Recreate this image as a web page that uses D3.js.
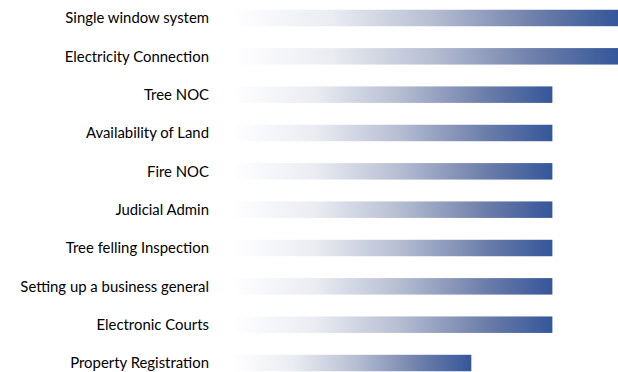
<!DOCTYPE html>
<html><head><meta charset="utf-8">
<script src="https://cdn.jsdelivr.net/npm/d3@7"></script>
<style>body{margin:0;background:#fff}svg{display:block}</style>
</head><body>
<svg id="c" width="618" height="372"></svg>
<script>
const categories = ["Single window system","Electricity Connection","Tree NOC","Availability of Land","Fire NOC","Judicial Admin","Tree felling Inspection","Setting up a business general","Electronic Courts","Property Registration"];
const values = [100,100,83,83,83,83,83,83,83,62];

const svg = d3.select("#c");
const left = 232, right = 618;
const x = d3.scaleLinear().domain([0,100]).range([left,right]);
const y = d3.scaleBand().domain(categories).range([-1,382]).paddingInner(0.57).paddingOuter(0.28);

const defs = svg.append("defs");
const grad = defs.append("linearGradient").attr("id","g").attr("x1","0%").attr("x2","100%").attr("y1","0%").attr("y2","0%");
[[0,"#ffffff"],[0.26,"#eaecf2"],[0.52,"#b6bed2"],[0.78,"#6f80ab"],[1,"#35569a"]].forEach(s=>
  grad.append("stop").attr("offset",s[0]).attr("stop-color",s[1]));

svg.selectAll("rect.bar").data(categories).join("rect").attr("class","bar")
  .attr("x", x(0)).attr("y", d=>y(d)).attr("height", y.bandwidth())
  .attr("width", (d,i)=>x(values[i])-x(0)).attr("fill","url(#g)");

svg.selectAll("text.lbl").data(categories).join("text").attr("class","lbl")
  .attr("x",209).attr("y", d=>y(d)+y.bandwidth()/2).attr("dy","0.35em")
  .attr("text-anchor","end").attr("font-family","Lato, 'Open Sans', sans-serif").attr("font-size",14.9).attr("fill","#000")
  .text(d=>d);
</script>
</body></html>
